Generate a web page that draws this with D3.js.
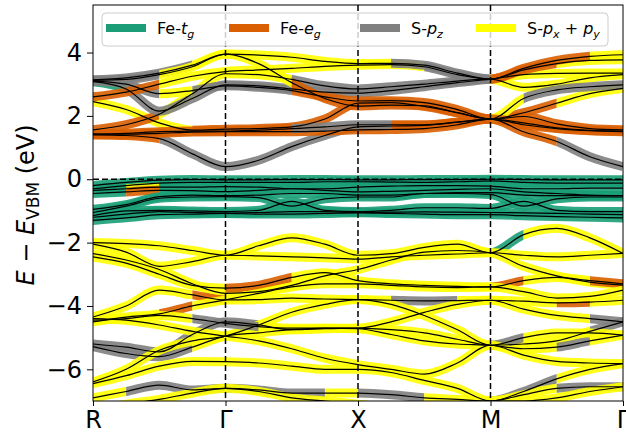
<!DOCTYPE html>
<html>
<head>
<meta charset="utf-8">
<script src="https://cdn.jsdelivr.net/npm/d3@7"></script>
<style>
  body { margin: 0; background: #fff; }
  text { font-family: "DejaVu Sans", sans-serif; }
</style>
</head>
<body>
<div id="vis"></div>
<script>
// k-path: high symmetry points and the sample points every band is given on
var kLabels = ["R", "Γ", "X", "M", "Γ"];
var kTicks = [0, 1, 2, 3, 4];
var kSteps = [0, 0.25, 0.5, 0.75, 1, 1.25, 1.5, 1.75, 2, 2.25, 2.5, 2.75, 3, 3.25, 3.5, 3.75, 4];
var yTicks = [-6, -4, -2, 0, 2, 4];

// orbital characters: key letter, legend name
var orbitals = [
  { key: "t", label: "Fe-", sym: "t", sub: "g" },
  { key: "e", label: "Fe-", sym: "e", sub: "g" },
  { key: "z", label: "S-", sym: "p", sub: "z" },
  { key: "p", label: "S-", sym: "p", sub: "x", sym2: "p", sub2: "y" }
];

// conduction bands (eV), one value per kStep
var condBands = [
  [1.40, 1.38, 1.28, 0.80, 0.40, 0.60, 1.03, 1.38, 1.65, 1.68, 1.70, 1.80, 1.90, 1.50, 1.19, 0.71, 0.40],
  [1.43, 1.42, 1.45, 1.49, 1.50, 1.50, 1.50, 1.52, 1.56, 1.57, 1.60, 1.72, 1.90, 1.72, 1.60, 1.53, 1.50],
  [2.45, 2.20, 1.78, 1.55, 1.58, 1.60, 1.65, 1.90, 2.40, 2.42, 2.30, 2.10, 1.90, 1.98, 1.75, 1.60, 1.56],
  [1.56, 1.72, 2.05, 2.70, 3.33, 3.30, 3.15, 2.95, 2.85, 2.92, 3.00, 3.10, 3.16, 2.90, 3.00, 3.20, 3.30],
  [3.08, 2.85, 2.15, 2.55, 2.98, 2.95, 2.85, 2.75, 2.72, 2.80, 2.92, 3.05, 3.16, 3.30, 3.34, 3.35, 3.35],
  [3.10, 3.00, 2.70, 2.80, 2.95, 2.90, 2.80, 2.60, 2.47, 2.48, 2.42, 2.20, 1.90, 2.10, 2.40, 2.70, 2.87],
  [2.60, 2.75, 3.00, 3.25, 3.40, 3.45, 3.50, 3.56, 3.60, 3.62, 3.55, 3.30, 3.16, 3.45, 3.65, 3.75, 3.77],
  [3.14, 3.20, 3.35, 3.60, 3.95, 3.92, 3.85, 3.72, 3.65, 3.66, 3.60, 3.35, 3.16, 3.50, 3.75, 3.88, 3.93],
  [3.12, 3.15, 3.30, 3.55, 3.95, 3.65, 3.05, 2.55, 2.31, 2.34, 2.32, 2.10, 1.90, 2.55, 2.82, 2.92, 2.98],
  [1.42, 1.45, 1.50, 1.52, 1.52, 1.55, 1.60, 1.65, 1.72, 1.72, 1.72, 1.80, 1.90, 1.78, 1.62, 1.54, 1.52]
];
// dominant character on each of the 16 k intervals
var condChar = [
  "eezzzzzzzeeeeezz",
  "eeeeeeeeeeeeeeee",
  "pppeeeeeeeeeeeee",
  "eeppppzzzzzzpppp",
  "tzzzzzzzzzzzpppp",
  "zzpzzzeeeeeeeepp",
  "eeppppppppzzeepp",
  "zzzppppppzzzeeep",
  "zzppppeeeeeepzzz",
  "eeeeeezzzeeeeeee"
];

// Fe-d valence bands just below the VBM
var feBands = [
  [-0.20, -0.10, -0.03, -0.01, -0.02, -0.02, -0.01, -0.01, -0.02, -0.02, -0.01, -0.01, 0.00, -0.01, -0.02, -0.02, -0.02],
  [-0.30, -0.20, -0.12, -0.10, -0.10, -0.10, -0.10, -0.08, -0.08, -0.09, -0.10, -0.08, -0.05, -0.10, -0.12, -0.12, -0.12],
  [-0.35, -0.30, -0.25, -0.25, -0.23, -0.25, -0.30, -0.30, -0.25, -0.22, -0.20, -0.20, -0.22, -0.30, -0.30, -0.28, -0.28],
  [-0.45, -0.40, -0.35, -0.36, -0.39, -0.35, -0.30, -0.35, -0.40, -0.38, -0.35, -0.32, -0.30, -0.40, -0.45, -0.50, -0.52],
  [-0.95, -0.80, -0.55, -0.50, -0.52, -0.50, -0.45, -0.45, -0.50, -0.50, -0.45, -0.42, -0.42, -0.50, -0.52, -0.52, -0.52],
  [-1.05, -0.85, -0.60, -0.56, -0.55, -0.58, -0.85, -0.62, -0.56, -0.56, -0.45, -0.45, -0.48, -0.85, -0.62, -0.56, -0.56],
  [-1.15, -1.00, -0.98, -1.00, -1.02, -0.98, -0.70, -0.98, -1.02, -0.98, -0.90, -0.90, -0.92, -0.70, -0.98, -1.02, -1.02],
  [-1.20, -1.10, -1.02, -1.05, -1.07, -1.05, -1.02, -1.02, -1.05, -1.04, -1.03, -1.04, -1.05, -1.06, -1.08, -1.10, -1.12],
  [-1.30, -1.22, -1.12, -1.10, -1.08, -1.10, -1.10, -1.08, -1.06, -1.08, -1.10, -1.12, -1.12, -1.15, -1.18, -1.20, -1.22]
];
var feChar = [
  "tttttttttttttttt",
  "tttttttttttttttt",
  "tptttttttttttttt",
  "tetttttttttttttt",
  "tttttttttttttttt",
  "tttttttttttttttt",
  "tttttttttttttttt",
  "tttttttttttttttt",
  "tttttttttttttttt"
];

// S-p valence bands
var sBands = [
  [-2.00, -2.03, -2.10, -2.25, -2.40, -2.10, -1.85, -2.05, -2.40, -2.35, -2.15, -2.05, -2.32, -1.75, -1.55, -1.85, -2.34],
  [-2.05, -2.30, -2.75, -2.60, -2.40, -2.42, -2.45, -2.48, -2.52, -2.45, -2.40, -2.36, -2.32, -2.40, -2.45, -2.40, -2.34],
  [-2.35, -2.55, -2.85, -3.30, -3.60, -3.55, -3.35, -3.05, -2.85, -2.55, -2.30, -2.25, -2.32, -2.75, -3.05, -3.25, -3.34],
  [-2.45, -2.65, -3.00, -3.35, -3.44, -3.35, -3.10, -2.95, -3.20, -3.30, -3.35, -3.38, -3.40, -3.20, -3.10, -3.20, -3.30],
  [-4.35, -4.00, -3.50, -3.65, -3.81, -3.80, -3.75, -3.78, -3.80, -3.82, -3.84, -3.83, -3.82, -3.85, -3.90, -3.88, -3.82],
  [-4.50, -4.35, -4.25, -4.00, -3.81, -3.60, -3.40, -3.30, -3.30, -3.35, -3.40, -3.42, -3.40, -3.55, -3.75, -3.70, -3.50],
  [-5.20, -5.30, -5.45, -4.90, -4.50, -4.60, -4.75, -4.72, -4.70, -4.75, -4.85, -5.05, -5.24, -5.20, -5.10, -4.80, -4.50],
  [-5.28, -5.50, -5.60, -5.30, -4.95, -4.85, -4.75, -4.70, -4.72, -4.90, -5.10, -5.20, -5.24, -5.35, -5.30, -5.10, -4.92],
  [-6.40, -6.00, -5.40, -5.10, -4.95, -4.60, -4.20, -3.95, -3.80, -3.95, -4.30, -4.75, -5.24, -5.00, -4.85, -4.85, -4.92],
  [-4.40, -4.45, -4.60, -4.80, -4.95, -5.10, -5.35, -5.65, -5.85, -6.00, -6.15, -5.80, -5.24, -5.55, -5.75, -5.80, -5.82],
  [-6.45, -6.20, -5.90, -5.75, -5.76, -5.80, -5.90, -6.00, -6.00, -6.10, -6.35, -6.60, -7.00, -6.70, -6.30, -6.00, -5.82],
  [-6.90, -6.70, -6.50, -6.65, -6.60, -6.65, -6.75, -6.75, -6.75, -6.80, -6.90, -6.95, -7.00, -6.80, -6.60, -6.55, -6.55],
  [-7.30, -7.10, -6.95, -6.75, -6.60, -6.70, -6.90, -7.00, -7.10, -7.20, -7.20, -7.10, -7.00, -7.00, -6.90, -6.70, -6.55],
  [-4.45, -4.40, -4.30, -4.40, -4.55, -4.65, -4.70, -4.70, -4.70, -4.50, -4.20, -3.95, -3.82, -4.10, -4.30, -4.40, -4.50]
];
var sChar = [
  "pppppppppppptppp",
  "pppppppppppppppp",
  "pppppppppppppppp",
  "ppppeeppppppeppe",
  "pppepppppzzpppep",
  "ppeppppppppppppp",
  "zzzzzppppppppppz",
  "zzzpppppppppppzp",
  "ppppppppppppzppp",
  "pppppppppppppppp",
  "ppppppppppppzzpp",
  "pzzzzzzpzzppppzz",
  "pppppppppppppppp",
  "pppzzppppppppppz"
];

var colors = { t: "#1b9e77", e: "#d95f02", z: "#808080", p: "#ffff00" };

var width = 626, height = 433;
var plot = { left: 93, right: 623, top: 5, bottom: 401 };

var svg = d3.select("#vis").append("svg")
    .attr("width", width)
    .attr("height", height);

var x = d3.scaleLinear().domain([0, 4]).range([plot.left, plot.right]);
var y = d3.scaleLinear().domain([-7, 5.5]).range([plot.bottom, plot.top]);

var defs = svg.append("defs");
defs.append("clipPath").attr("id", "plotclip")
  .append("rect")
    .attr("x", plot.left).attr("y", plot.top)
    .attr("width", plot.right - plot.left).attr("height", plot.bottom - plot.top);

var line = d3.line()
    .x(function(d, i) { return x(kSteps[i]); })
    .y(function(d) { return y(d); })
    .curve(d3.curveMonotoneX);

var allBands = condBands.concat(feBands, sBands);
var allChar = condChar.concat(feChar, sChar);

var g = svg.append("g").attr("clip-path", "url(#plotclip)");
var colorLayer = g.append("g");
var blackLayer = g.append("g");

// thick coloured line per run of the same character, cut out of the whole band by a clip rect
var clipId = 0;
allBands.forEach(function(band, b) {
  var chars = allChar[b];
  var start = 0;
  for (var i = 1; i <= chars.length; i++) {
    if (i == chars.length || chars[i] != chars[start]) {
      var id = "run" + (clipId++);
      var x0 = x(kSteps[start]), x1 = x(kSteps[i]);
      defs.append("clipPath").attr("id", id)
        .append("rect")
          .attr("x", x0 - (start == 0 ? 10 : 0))
          .attr("y", 0)
          .attr("width", x1 - x0 + (start == 0 ? 10 : 0) + (i == chars.length ? 10 : 0))
          .attr("height", height);
      colorLayer.append("path")
          .attr("d", line(band))
          .attr("clip-path", "url(#" + id + ")")
          .style("fill", "none")
          .style("stroke", colors[chars[start]])
          .style("stroke-width", 9)
          .style("opacity", 0.9);
      start = i;
    }
  }
});

blackLayer.selectAll("path")
  .data(allBands)
  .enter()
  .append("path")
    .attr("d", line)
    .style("fill", "none")
    .style("stroke", "black")
    .style("stroke-width", 1.2);

// dashed guides at the high symmetry points and at the VBM
svg.selectAll(".kline")
  .data(kTicks.slice(1, 4))
  .enter()
  .append("line")
    .attr("x1", function(d) { return x(d); })
    .attr("x2", function(d) { return x(d); })
    .attr("y1", plot.top).attr("y2", plot.bottom)
    .style("stroke", "black").style("stroke-width", 1.5)
    .style("stroke-dasharray", "6,3");
svg.append("line")
    .attr("x1", plot.left).attr("x2", plot.right)
    .attr("y1", y(0)).attr("y2", y(0))
    .style("stroke", "black").style("stroke-width", 1.5)
    .style("stroke-dasharray", "6,3");

// axes
var yAxis = svg.append("g")
    .attr("transform", "translate(" + plot.left + ",0)")
    .call(d3.axisLeft(y).tickValues(yTicks).tickSize(6).tickPadding(5));
var xAxis = svg.append("g")
    .attr("transform", "translate(0," + plot.bottom + ")")
    .call(d3.axisBottom(x).tickValues(kTicks).tickSize(5).tickPadding(5)
      .tickFormat(function(d, i) { return kLabels[i]; }));
[yAxis, xAxis].forEach(function(a) {
  a.select(".domain").remove();
  a.selectAll("text").style("font-size", "24px").style("font-family", "DejaVu Sans").attr("fill", "black");
  a.selectAll("line").style("stroke", "black");
});
xAxis.selectAll("text").attr("dy", "0.72em");

svg.append("rect")
    .attr("x", plot.left).attr("y", plot.top)
    .attr("width", plot.right - plot.left).attr("height", plot.bottom - plot.top)
    .style("fill", "none").style("stroke", "black").style("stroke-width", 1);

// y label
var ylab = svg.append("text")
    .attr("transform", "translate(34,205) rotate(-90)")
    .attr("text-anchor", "middle")
    .style("font-size", "24px");
ylab.append("tspan").style("font-style", "italic").text("E");
ylab.append("tspan").text(" − ");
ylab.append("tspan").style("font-style", "italic").text("E");
ylab.append("tspan").attr("dy", 5).style("font-size", "17px").text("VBM");
ylab.append("tspan").attr("dy", -5).text(" (eV)");

// legend
var legend = svg.append("g");
legend.append("rect")
    .attr("x", 102).attr("y", 13).attr("width", 506).attr("height", 33).attr("rx", 4)
    .style("fill", "white").style("fill-opacity", 0.8)
    .style("stroke", "#cccccc").style("stroke-width", 1);
var legendX = [106, 229, 360, 476];
orbitals.forEach(function(o, i) {
  var lx = legendX[i];
  legend.append("line")
      .attr("x1", lx).attr("x2", lx + 40)
      .attr("y1", 28).attr("y2", 28)
      .style("stroke", colors[o.key]).style("stroke-width", 8);
  var t = legend.append("text")
      .attr("x", lx + 51).attr("y", 34)
      .style("font-size", "16px");
  t.append("tspan").text(o.label);
  t.append("tspan").style("font-style", "italic").text(o.sym);
  t.append("tspan").attr("dy", 4).style("font-style", "italic").style("font-size", "11px").text(o.sub);
  if (o.sym2) {
    t.append("tspan").attr("dy", -4).text(" + ");
    t.append("tspan").style("font-style", "italic").text(o.sym2);
    t.append("tspan").attr("dy", 4).style("font-style", "italic").style("font-size", "11px").text(o.sub2);
  }
});
</script>
</body>
</html>
